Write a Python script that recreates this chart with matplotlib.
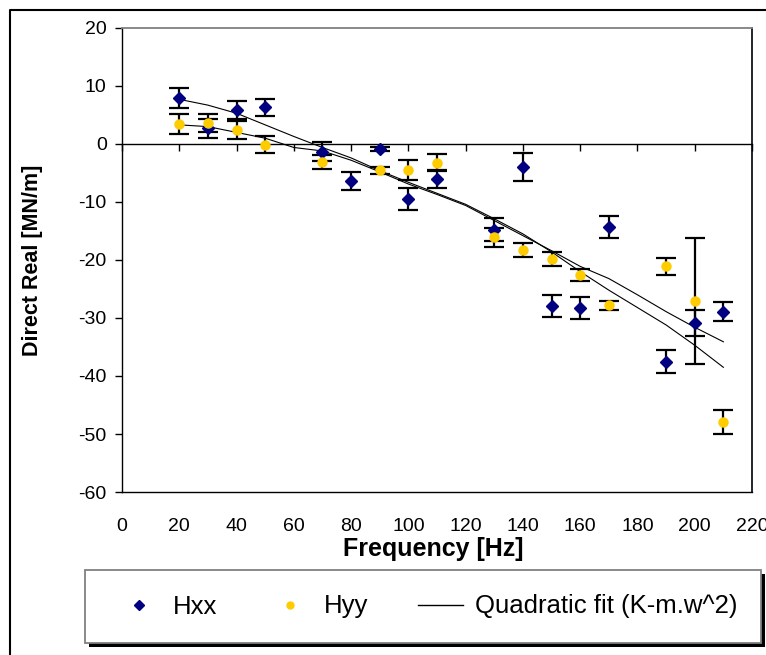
import matplotlib
matplotlib.use("Agg")
import matplotlib.pyplot as plt
from matplotlib.lines import Line2D
from matplotlib.patches import Rectangle

plt.rcParams['font.family'] = ['Liberation Sans', 'DejaVu Sans']

# ---- data ----
freq_xx = [20, 30, 40, 50, 70, 80, 90, 100, 110, 130, 140, 150, 160, 170, 190, 200, 210]
hxx = [7.9, 2.7, 5.9, 6.3, -1.3, -6.4, -0.85, -9.5, -6.0, -14.8, -4.0, -27.9, -28.2, -14.3, -37.5, -30.9, -28.9]
hxx_err = [1.7, 1.6, 1.6, 1.5, 1.7, 1.5, 0.3, 1.9, 1.6, 2.0, 2.4, 1.9, 1.9, 1.9, 1.9, 2.2, 1.7]

freq_yy = [20, 30, 40, 50, 70, 90, 100, 110, 130, 140, 150, 160, 170, 190, 200, 210]
hyy = [3.4, 3.6, 2.4, -0.1, -3.1, -4.5, -4.5, -3.2, -16.1, -18.2, -19.9, -22.6, -27.8, -21.1, -27.1, -47.9]
hyy_err = [1.7, 1.5, 1.5, 1.4, 1.2, 0.6, 1.7, 1.5, 1.6, 1.2, 1.2, 1.1, 0.8, 1.4, 10.9, 2.1]

fit_freq = [20, 30, 40, 50, 60, 70, 80, 90, 100, 110, 120, 130, 140, 150, 160, 170, 180, 190, 200, 210]
fit_xx = [7.7, 6.7, 5.3, 3.3, 1.3, -0.6, -2.4, -4.6, -6.6, -8.5, -10.4, -12.9, -15.5, -18.6, -22.0, -25.2, -28.2, -31.2, -34.7, -38.5]
fit_yy = [3.3, 3.0, 2.0, 1.0, -0.6, -1.2, -2.8, -4.8, -6.9, -8.7, -10.6, -13.2, -15.8, -18.4, -21.1, -23.2, -26.0, -28.9, -31.6, -34.1]

xticks = list(range(0, 221, 20))
yticks = list(range(-60, 21, 10))

labels = ['Hxx', 'Hyy', 'Quadratic fit (K-m.w^2)']
navy = '#000080'
gold = '#FFCC00'

W, H = 766, 655
fig = plt.figure(figsize=(W / 100, H / 100), dpi=100)
ax = fig.add_axes([122 / W, 1 - 492 / H, (752 - 122) / W, (492 - 28) / H])

# fit lines
ax.plot(fit_freq, fit_xx, color='black', lw=0.8, zorder=2)
ax.plot(fit_freq, fit_yy, color='black', lw=0.8, zorder=2)

# error bars + markers
ax.errorbar(freq_xx, hxx, yerr=hxx_err, fmt='none', ecolor='black', elinewidth=1.6,
            capsize=7, capthick=1.6, zorder=3)
ax.errorbar(freq_yy, hyy, yerr=hyy_err, fmt='none', ecolor='black', elinewidth=1.6,
            capsize=7, capthick=1.6, zorder=3)
ax.plot(freq_xx, hxx, ls='none', marker='D', ms=6.5, color=navy, mec=navy, zorder=4)
ax.plot(freq_yy, hyy, ls='none', marker='o', ms=6.5, color=gold, mec=gold, zorder=5)

ax.set_xlim(0, 220)
ax.set_ylim(-60, 20)

# axis at y=0 with tick marks pointing down
ax.spines['bottom'].set_position(('data', 0))
ax.spines['bottom'].set_linewidth(1.0)
ax.set_xticks(xticks)
ax.tick_params(axis='x', direction='out', length=5, width=1, labelbottom=False)
ax.set_yticks(yticks)
ax.set_yticklabels([str(v) for v in yticks])
ax.tick_params(axis='y', direction='out', length=5, width=1, labelsize=14, pad=6)
ax.spines['left'].set_linewidth(1.0)
ax.spines['right'].set_linewidth(1.2)
ax.spines['top'].set_color('#808080')
ax.spines['top'].set_linewidth(1.3)

# tick labels along plot bottom
sec = ax.secondary_xaxis('bottom')
sec.set_xticks(xticks)
sec.set_xticklabels([str(v) for v in xticks])
sec.tick_params(length=0, labelsize=14, pad=19)
sec.spines['bottom'].set_linewidth(1.0)

ax.set_xlabel('Frequency [Hz]', fontsize=18, fontweight='bold', va='center')
ax.xaxis.set_label_coords((433 - 122) / 630, (492 - 549) / 464)
ax.set_ylabel('Direct Real [MN/m]', fontsize=15.5, fontweight='bold', va='center')
ax.yaxis.set_label_coords((33 - 122) / 630, 0.5)

# figure border (top and left edges visible)
fig.lines.append(Line2D([10 / W, 10 / W, 1.0], [0.0, 1 - 10 / H, 1 - 10 / H],
                        transform=fig.transFigure, color='black', lw=1.5))

# legend box with shadow
x0, x1, y0, y1 = 85, 761, 570, 643
fig.patches.append(Rectangle(((x0 + 4) / W, 1 - (y1 + 4) / H), (x1 - x0) / W, (y1 - y0) / H,
                             transform=fig.transFigure, facecolor='black', edgecolor='black', lw=0, zorder=1))
fig.patches.append(Rectangle((x0 / W, 1 - y1 / H), (x1 - x0) / W, (y1 - y0) / H,
                             transform=fig.transFigure, facecolor='white', edgecolor='#808080', lw=1.3, zorder=2))

handles = [Line2D([], [], ls='none', marker='D', ms=5, color=navy),
           Line2D([], [], ls='none', marker='o', ms=5, color=gold),
           Line2D([], [], color='black', lw=1)]
fig.legend(handles, labels, loc='center', bbox_to_anchor=((x0 + x1) / 2 / W + 4 / W, 1 - (y0 + y1) / 2 / H),
           ncol=3, frameon=False, fontsize=18.5, handlelength=1.75, handletextpad=0.45,
           columnspacing=1.95)

fig.savefig('out.png', dpi=100)
